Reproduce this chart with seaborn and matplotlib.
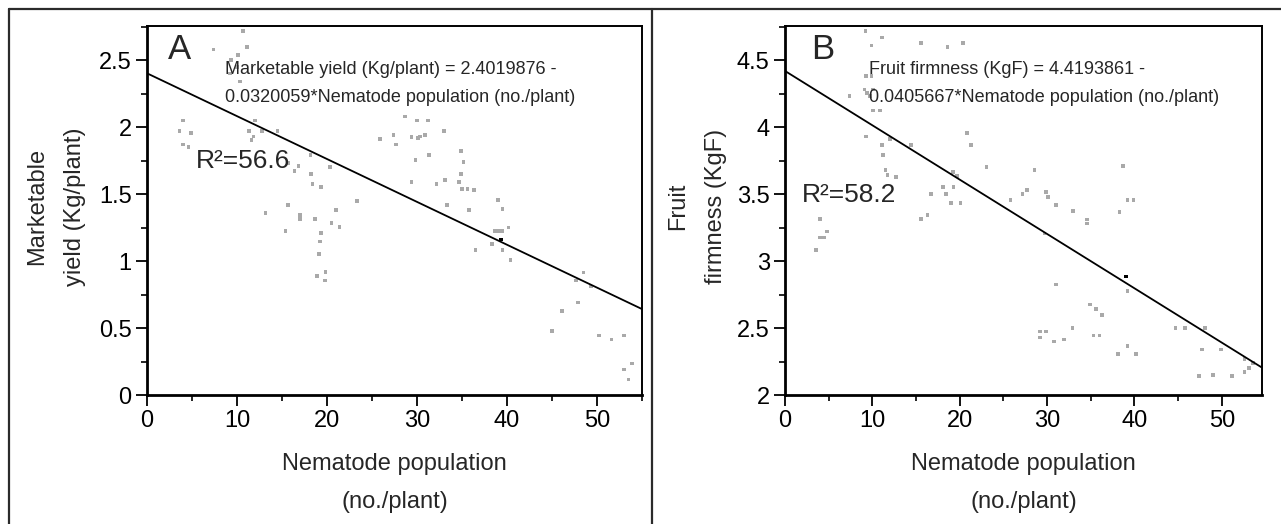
import numpy as np
import pandas as pd
import matplotlib
matplotlib.use("Agg")
import matplotlib.pyplot as plt
from matplotlib.lines import Line2D
from matplotlib.ticker import MultipleLocator, FuncFormatter
import seaborn as sns

# --- valori ---
# Pannello A: resa commerciale vs popolazione di nematodi
nem_a = [10.7, 11.1, 7.4, 10.1, 9.3, 10.0, 9.2, 10.3,
         4.0, 3.6, 4.9, 4.0, 4.6,
         12.0, 11.3, 12.8, 14.5, 11.85, 11.6,
         15.7, 16.85, 18.15, 16.4, 18.2, 20.3, 18.4, 19.3,
         23.3, 15.7, 13.15, 17.0, 17.0, 18.7, 21.0, 20.5, 21.4, 15.4, 19.3, 19.2, 19.1, 18.9, 19.85, 19.8,
         25.9, 27.4, 27.7,
         28.7, 30.0, 31.2, 33.0, 29.4, 30.1, 30.3, 30.9, 29.85, 31.3, 34.9, 35.15, 34.9, 29.4, 32.15,
         33.1, 34.7, 35.0, 35.6, 36.3, 33.3, 35.8, 39.0, 39.5, 38.7, 39.1, 39.5, 40.15, 38.3, 36.5,
         39.5, 40.4,
         48.5, 47.7, 49.3, 47.9, 46.1, 45.0, 50.2, 51.6, 53.0, 53.9, 53.0, 53.5]
yield_a = [2.72, 2.60, 2.58, 2.54, 2.50, 2.45, 2.40, 2.34,
           2.05, 1.97, 1.955, 1.87, 1.85,
           2.05, 1.97, 1.97, 1.97, 1.93, 1.905,
           1.73, 1.71, 1.79, 1.67, 1.65, 1.70, 1.575, 1.555,
           1.45, 1.42, 1.36, 1.345, 1.315, 1.315, 1.38, 1.285, 1.255, 1.225, 1.21, 1.145, 1.055, 0.89, 0.92, 0.855,
           1.91, 1.94, 1.87,
           2.08, 2.05, 2.05, 1.97, 1.925, 1.92, 1.93, 1.94, 1.755, 1.79, 1.82, 1.74, 1.65, 1.59, 1.575,
           1.605, 1.59, 1.54, 1.54, 1.53, 1.42, 1.38, 1.455, 1.39, 1.225, 1.225, 1.225, 1.25, 1.125, 1.085,
           1.085, 1.01,
           0.915, 0.855, 0.81, 0.69, 0.625, 0.48, 0.445, 0.415, 0.445, 0.235, 0.19, 0.115]
nem_a_dark = [39.3]
yield_a_dark = [1.16]
INTERCEPT_A, SLOPE_A = 2.4019876, -0.0320059

# Pannello B: consistenza del frutto vs popolazione di nematodi
nem_b = [9.2, 11.1, 9.9, 15.6, 18.6, 20.4,
         9.25, 9.9, 9.1, 9.35, 10.1, 7.4, 9.7, 10.1, 10.9,
         9.25, 11.1, 11.25, 12.0, 14.4, 11.5, 11.75, 12.7,
         20.8, 21.3, 23.05, 19.2, 19.65, 18.1, 19.3, 16.7, 18.4, 19.0, 20.1, 15.6, 16.3,
         4.0, 4.8, 4.0, 4.5, 3.55,
         25.8, 27.2, 27.7, 28.55, 29.85, 30.1, 31.0, 33.0, 34.6, 34.6, 38.7, 39.2, 39.9, 38.3, 29.7,
         39.2, 31.0, 34.9, 35.6, 36.3, 29.2, 29.9, 29.2, 30.8, 31.9, 32.9, 35.3, 36.0, 39.2, 38.1, 40.2,
         44.7, 45.8, 48.1, 47.7, 49.9, 47.4, 49.0, 51.2, 52.6, 53.1, 52.6, 53.6]
firm_b = [4.72, 4.67, 4.61, 4.63, 4.60, 4.63,
          4.38, 4.38, 4.28, 4.255, 4.28, 4.23, 4.23, 4.125, 4.125,
          3.93, 3.865, 3.79, 3.91, 3.865, 3.68, 3.645, 3.63,
          3.955, 3.865, 3.70, 3.665, 3.635, 3.555, 3.555, 3.50, 3.50, 3.435, 3.435, 3.315, 3.345,
          3.315, 3.22, 3.175, 3.175, 3.085,
          3.455, 3.50, 3.53, 3.68, 3.515, 3.48, 3.42, 3.375, 3.31, 3.28, 3.71, 3.455, 3.455, 3.365, 3.205,
          2.775, 2.825, 2.675, 2.64, 2.595, 2.475, 2.475, 2.43, 2.40, 2.415, 2.50, 2.445, 2.445, 2.365, 2.305, 2.305,
          2.50, 2.50, 2.50, 2.34, 2.34, 2.14, 2.15, 2.14, 2.17, 2.20, 2.27, 2.24]
nem_b_dark = [39.0]
firm_b_dark = [2.885]
INTERCEPT_B, SLOPE_B = 4.4193861, -0.0405667

sns.set_theme(style="ticks")
plt.rcParams['font.family'] = ['Liberation Sans', 'DejaVu Sans']
NARROW = ['Liberation Sans Narrow', 'Liberation Sans', 'DejaVu Sans']

W, H = 1281, 524
fig = plt.figure(figsize=(W / 100, H / 100), dpi=100)
fig.patch.set_facecolor('white')


def px_axes(left, top, right, bottom):
    return fig.add_axes([left / W, 1 - bottom / H, (right - left) / W, (bottom - top) / H])


def draw_panel(ax, x, y, xd, yd, b0, b1, xmax, ylim, yticks, letter, eq1, eq2, r2, r2_pos, eq_x, letter_x):
    df = pd.DataFrame({'nem': x, 'val': y})
    sns.scatterplot(data=df, x='nem', y='val', marker='s', s=7, color='#a9a9a9',
                    edgecolor='none', linewidth=0, ax=ax, zorder=2)
    sns.scatterplot(x=xd, y=yd, marker='s', s=7, color='black', edgecolor='none',
                    linewidth=0, ax=ax, zorder=4)
    line = pd.DataFrame({'nem': [0, xmax], 'val': [b0 + b1 * 0, b0 + b1 * xmax]})
    sns.lineplot(data=line, x='nem', y='val', color='black', lw=1.3, ax=ax, zorder=3)

    ax.set_xlim(0, xmax)
    ax.set_ylim(*ylim)
    ax.set_xticks([0, 10, 20, 30, 40, 50])
    ax.xaxis.set_minor_locator(MultipleLocator(5))
    ax.set_yticks(yticks)
    ax.yaxis.set_minor_locator(MultipleLocator(0.25))
    ax.yaxis.set_major_formatter(FuncFormatter(lambda v, p: f"{v:g}"))
    ax.tick_params(which='major', direction='out', length=8, width=1.3, labelsize=17,
                   pad=3, color='black', labelcolor='black')
    ax.tick_params(which='minor', direction='out', length=4.5, width=1.2, color='black')
    for side in ['left', 'bottom']:
        ax.spines[side].set_linewidth(2.0)
    for side in ['top', 'right']:
        ax.spines[side].set_linewidth(1.4)
    for s in ax.spines.values():
        s.set_color('black')

    ax.set_xlabel("Nematode population\n(no./plant)", fontsize=17, linespacing=1.95)
    ax.xaxis.set_label_coords(0.5, -0.156)

    ax.text(letter_x, 0.935, letter, transform=ax.transAxes, ha='center', va='center',
            fontsize=25, family=NARROW)
    ax.text(eq_x, 0.870, eq1, transform=ax.transAxes, ha='left', va='baseline',
            fontsize=13, family=NARROW)
    ax.text(eq_x, 0.794, eq2, transform=ax.transAxes, ha='left', va='baseline',
            fontsize=13, family=NARROW)
    ax.text(r2_pos[0], r2_pos[1], r2, transform=ax.transAxes, ha='left', va='baseline',
            fontsize=19, family=NARROW)


ax_a = px_axes(147, 26, 642, 395)
draw_panel(ax_a, nem_a, yield_a, nem_a_dark, yield_a_dark, INTERCEPT_A, SLOPE_A, 55,
           (0, 2.755), [0, 0.5, 1, 1.5, 2, 2.5], "A",
           "Marketable yield (Kg/plant) = 2.4019876 -",
           "0.0320059*Nematode population (no./plant)",
           "R²=56.6", (0.099, 0.615), 0.158, 0.065)
ax_a.set_ylabel("Marketable\nyield (Kg/plant)", fontsize=17, linespacing=1.95)
ax_a.yaxis.set_label_coords(-0.123, 0.51)

ax_b = px_axes(785, 26, 1262, 395)
draw_panel(ax_b, nem_b, firm_b, nem_b_dark, firm_b_dark, INTERCEPT_B, SLOPE_B, 54.6,
           (2, 4.755), [2, 2.5, 3, 3.5, 4, 4.5], "B",
           "Fruit firmness (KgF) = 4.4193861 -",
           "0.0405667*Nematode population (no./plant)",
           "R²=58.2", (0.036, 0.523), 0.176, 0.078)
ax_b.set_ylabel("Fruit\nfirmness (KgF)", fontsize=17, linespacing=1.95)
ax_b.yaxis.set_label_coords(-0.122, 0.51)

# cornice esterna e separatore tra i pannelli
frame_kw = dict(transform=fig.transFigure, color='#2b2b2b', lw=1.6)
fig.add_artist(Line2D([9 / W, 1], [1 - 9 / H, 1 - 9 / H], **frame_kw))
fig.add_artist(Line2D([9 / W, 9 / W], [0, 1 - 9 / H], **frame_kw))
fig.add_artist(Line2D([652 / W, 652 / W], [0, 1 - 9 / H], **frame_kw))

fig.savefig("out.png", dpi=100)
